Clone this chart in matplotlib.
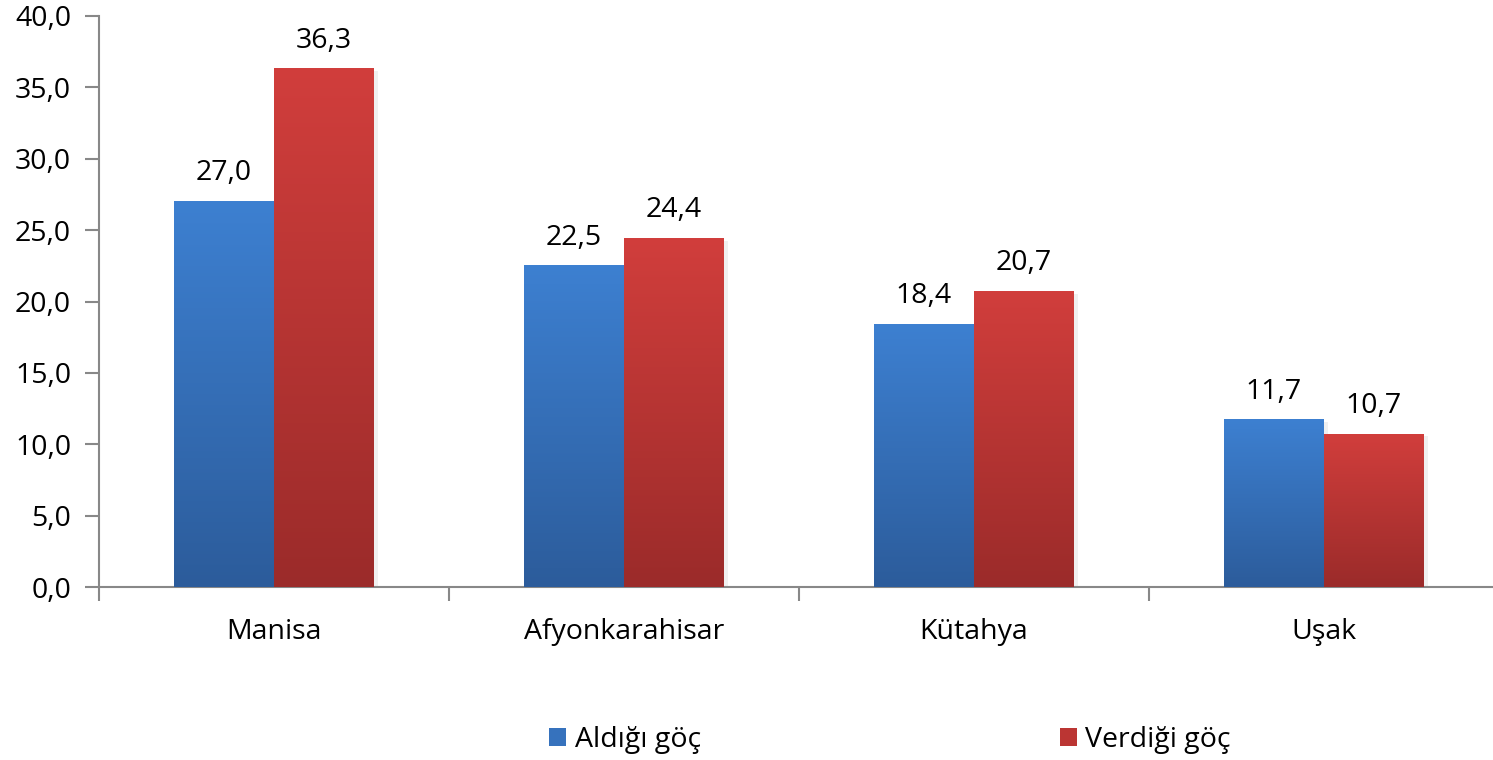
import numpy as np
import matplotlib.pyplot as plt
from matplotlib.colors import LinearSegmentedColormap
from matplotlib.patches import Patch

# data
cities = ['Manisa', 'Afyonkarahisar', 'Kütahya', 'Uşak']
aldigi = [27.0, 22.5, 18.4, 11.7]
verdigi = [36.3, 24.4, 20.7, 10.7]
series_names = ['Aldığı göç', 'Verdiği göç']

plt.rcParams['font.family'] = ['Open Sans', 'DejaVu Sans']
fs = 20.5

blue_cm = LinearSegmentedColormap.from_list('b', ['#2c5c9b', '#3d80d1'])
red_cm = LinearSegmentedColormap.from_list('r', ['#9b2b2a', '#d13e3c'])

fig = plt.figure(figsize=(14.93, 7.6), dpi=100)
ax = fig.add_axes([99 / 1493, 173 / 760, 1400 / 1493, 571 / 760])

x = np.arange(len(cities))
w = 100 / 350
grad = np.linspace(0, 1, 256).reshape(-1, 1)

for vals, cm, off in [(aldigi, blue_cm, -w / 2), (verdigi, red_cm, w / 2)]:
    bars = ax.bar(x + off, vals, w, color='none', edgecolor='none', zorder=3)
    for b, v in zip(bars, vals):
        x0 = b.get_x()
        # faint shadow on the right
        ax.bar(x0 + w / 2 + 0.012, v - 0.15, w, bottom=0, color='#000000',
               alpha=0.06, zorder=2, linewidth=0)
        ax.imshow(grad, cmap=cm, origin='lower', aspect='auto',
                  extent=(x0, x0 + w, 0, v), zorder=3)
        ax.text(x0 + w / 2, v + 1.0, f'{v:.1f}'.replace('.', ','),
                ha='center', va='bottom', fontsize=fs, color='black')

ax.set_xlim(-0.5, len(cities) - 0.5)
ax.set_ylim(0, 40)
ax.set_yticks(np.arange(0, 41, 5))
ax.set_yticklabels([f'{t:.1f}'.replace('.', ',') for t in np.arange(0, 41, 5)], fontsize=fs)

ax.set_xticks(x)
ax.set_xticklabels(cities, fontsize=fs)
ax.set_xticks(np.arange(-0.5, len(cities), 1), minor=True)
ax.tick_params(axis='x', which='major', length=0, pad=22)
ax.tick_params(axis='x', which='minor', length=10, color='#888888', width=1.5)
ax.tick_params(axis='y', length=10, color='#888888', width=1.5, pad=10)

for s in ['top', 'right']:
    ax.spines[s].set_visible(False)
for s in ['left', 'bottom']:
    ax.spines[s].set_color('#888888')
    ax.spines[s].set_linewidth(1.5)

handles = [Patch(facecolor='#3672bd'), Patch(facecolor='#bb3533')]
fig.legend(handles, series_names, loc='center', bbox_to_anchor=(890 / 1493, 1 - 740 / 760),
           ncol=2, frameon=False, fontsize=fs, handlelength=0.6, handleheight=0.6,
           handletextpad=0.3, columnspacing=12.6)

fig.savefig('out.png', dpi=100)
